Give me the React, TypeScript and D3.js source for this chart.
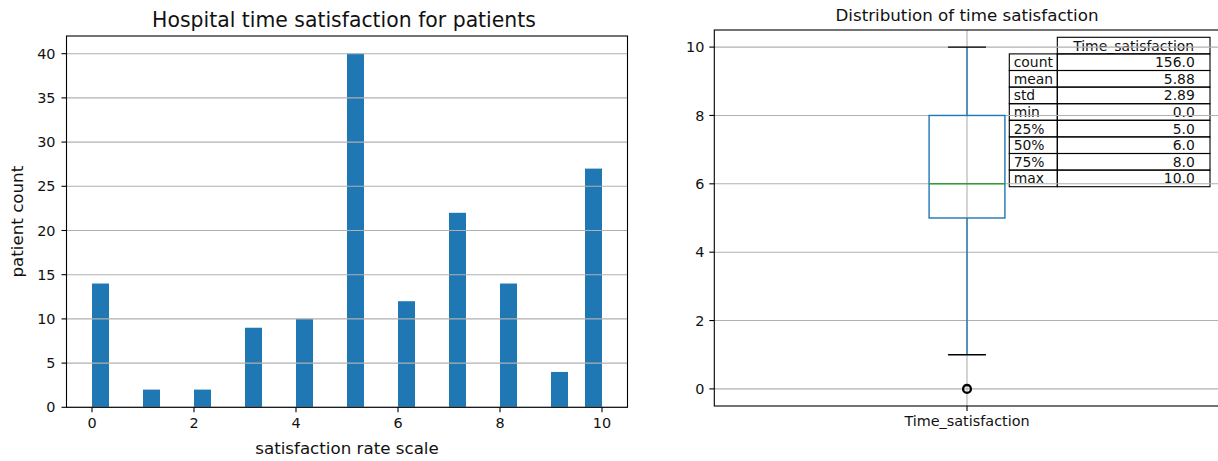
import React from "react";
import * as d3 from "d3";

// histogram counts per satisfaction score (30 bins over 0..10)
const scores = [0, 1, 2, 3, 4, 5, 6, 7, 8, 9, 10];
const counts = [14, 2, 2, 9, 10, 40, 12, 22, 14, 4, 27];
const binCount = 30;
const xTicksLeft = [0, 2, 4, 6, 8, 10];
const yTicksLeft = [0, 5, 10, 15, 20, 25, 30, 35, 40];

// box plot stats
const boxName = "Time_satisfaction";
const q1 = 5;
const median = 6;
const q3 = 8;
const whiskerLow = 1;
const whiskerHigh = 10;
const outliers = [0];
const yTicksRight = [0, 2, 4, 6, 8, 10];

// describe() table
const statLabels = ["count", "mean", "std", "min", "25%", "50%", "75%", "max"];
const statValues = ["156.0", "5.88", "2.89", "0.0", "5.0", "6.0", "8.0", "10.0"];

const FONT = "DejaVu Sans, sans-serif";
const TXT = "#111";
const GRID = "#b0b0b0";
const BLUE = "#1f77b4";
const GREEN = "#2ca02c";

function HistPanel() {
  const left = 66.5, right = 627.5, top = 36, bottom = 407.3;
  const x = d3.scaleLinear().domain([-0.5, 10.5]).range([left, right]);
  const y = d3.scaleLinear().domain([0, 42]).range([bottom, top]);
  const bw = 10 / binCount;

  return (
    <g>
      <text x={(left + right) / 2 - 3} y={27} textAnchor="middle" fontSize={20.4} fill={TXT}>
        Hospital time satisfaction for patients
      </text>
      {scores.map((s, i) => {
        // last bin closes at 10, so score 10 lands in [9.67, 10]
        const x0 = s === 10 ? 10 - bw : s;
        return (
          <rect key={s} x={x(x0)} y={y(counts[i])} width={x(x0 + bw) - x(x0)}
            height={y(0) - y(counts[i])} fill={BLUE} />
        );
      })}
      {yTicksLeft.map((t) => (
        <g key={t}>
          <line x1={left} x2={right} y1={y(t)} y2={y(t)} stroke={GRID} strokeWidth={1.1} />
          <line x1={left - 5} x2={left} y1={y(t)} y2={y(t)} stroke="#000" strokeWidth={1.1} />
          <text x={left - 11} y={y(t)} dy="0.36em" textAnchor="end" fontSize={14.4} fill={TXT}>{t}</text>
        </g>
      ))}
      {xTicksLeft.map((t) => (
        <g key={t}>
          <line x1={x(t)} x2={x(t)} y1={bottom} y2={bottom + 5} stroke="#000" strokeWidth={1.1} />
          <text x={x(t)} y={bottom + 21} textAnchor="middle" fontSize={14.4} fill={TXT}>{t}</text>
        </g>
      ))}
      <rect x={left} y={top} width={right - left} height={bottom - top} fill="none" stroke="#000" strokeWidth={1.1} />
      <text x={(left + right) / 2} y={454} textAnchor="middle" fontSize={16.7} fill={TXT}>
        satisfaction rate scale
      </text>
      <text transform={`translate(23,${(top + bottom) / 2}) rotate(-90)`} textAnchor="middle" fontSize={16.7} fill={TXT}>
        patient count
      </text>
    </g>
  );
}

function BoxPanel() {
  const left = 714.3, right = 1219.7, top = 30, bottom = 406;
  const x = d3.scaleLinear().domain([0.5, 1.5]).range([left, right]);
  const y = d3.scaleLinear().domain([-0.5, 10.5]).range([bottom, top]);
  const pos = 1;
  const boxW = 0.15, capW = 0.075;

  // table layout
  const tLeft = 1009.3, tMid = 1057.3, tRight = 1210, tTop = 37.3, rowH = 16.6;

  return (
    <g>
      <text x={x(pos)} y={21} textAnchor="middle" fontSize={16.7} fill={TXT}>
        Distribution of time satisfaction
      </text>

      {/* stats table */}
      <g fontSize={13.9} fill={TXT}>
        <rect x={tMid} y={tTop} width={tRight - tMid} height={rowH} fill="none" stroke="#000" strokeWidth={1.1} />
        <text x={(tMid + tRight) / 2} y={tTop + rowH / 2} dy="0.36em" textAnchor="middle">{boxName}</text>
        {statLabels.map((lab, i) => {
          const ry = tTop + rowH * (i + 1);
          return (
            <g key={lab}>
              <rect x={tLeft} y={ry} width={tMid - tLeft} height={rowH} fill="none" stroke="#000" strokeWidth={1.1} />
              <rect x={tMid} y={ry} width={tRight - tMid} height={rowH} fill="none" stroke="#000" strokeWidth={1.1} />
              <text x={tLeft + 4.4} y={ry + rowH / 2} dy="0.36em">{lab}</text>
              <text x={tRight - 15.2} y={ry + rowH / 2} dy="0.36em" textAnchor="end">{statValues[i]}</text>
            </g>
          );
        })}
      </g>

      {yTicksRight.map((t) => (
        <g key={t}>
          <line x1={left} x2={right} y1={y(t)} y2={y(t)} stroke={GRID} strokeWidth={1.1} />
          <line x1={left - 5} x2={left} y1={y(t)} y2={y(t)} stroke="#000" strokeWidth={1.1} />
          <text x={left - 10} y={y(t)} dy="0.36em" textAnchor="end" fontSize={14.4} fill={TXT}>{t}</text>
        </g>
      ))}
      <line x1={x(pos)} x2={x(pos)} y1={top} y2={bottom} stroke={GRID} strokeWidth={1.1} />

      {/* box */}
      <rect x={x(pos - boxW / 2)} y={y(q3)} width={x(pos + boxW / 2) - x(pos - boxW / 2)}
        height={y(q1) - y(q3)} fill="none" stroke={BLUE} strokeWidth={1.4} />
      <line x1={x(pos)} x2={x(pos)} y1={y(q3)} y2={y(whiskerHigh)} stroke={BLUE} strokeWidth={1.4} />
      <line x1={x(pos)} x2={x(pos)} y1={y(q1)} y2={y(whiskerLow)} stroke={BLUE} strokeWidth={1.4} />
      <line x1={x(pos - capW / 2)} x2={x(pos + capW / 2)} y1={y(whiskerHigh)} y2={y(whiskerHigh)} stroke="#000" strokeWidth={1.4} />
      <line x1={x(pos - capW / 2)} x2={x(pos + capW / 2)} y1={y(whiskerLow)} y2={y(whiskerLow)} stroke="#000" strokeWidth={1.4} />
      <line x1={x(pos - boxW / 2)} x2={x(pos + boxW / 2)} y1={y(median)} y2={y(median)} stroke={GREEN} strokeWidth={1.4} />
      {outliers.map((o, i) => (
        <circle key={i} cx={x(pos)} cy={y(o)} r={3.9} fill="none" stroke="#000" strokeWidth={2.3} />
      ))}

      <line x1={x(pos)} x2={x(pos)} y1={bottom} y2={bottom + 5} stroke="#000" strokeWidth={1.1} />
      <text x={x(pos)} y={bottom + 20} textAnchor="middle" fontSize={14.4} fill={TXT}>{boxName}</text>
      <rect x={left} y={top} width={right - left} height={bottom - top} fill="none" stroke="#000" strokeWidth={1.1} />
    </g>
  );
}

export default function App() {
  return (
    <div style={{ position: "absolute", left: 0, top: 0 }}>
      <svg width={1218} height={461} style={{ display: "block", background: "#fff" }} fontFamily={FONT}>
        <HistPanel />
        <BoxPanel />
      </svg>
    </div>
  );
}
